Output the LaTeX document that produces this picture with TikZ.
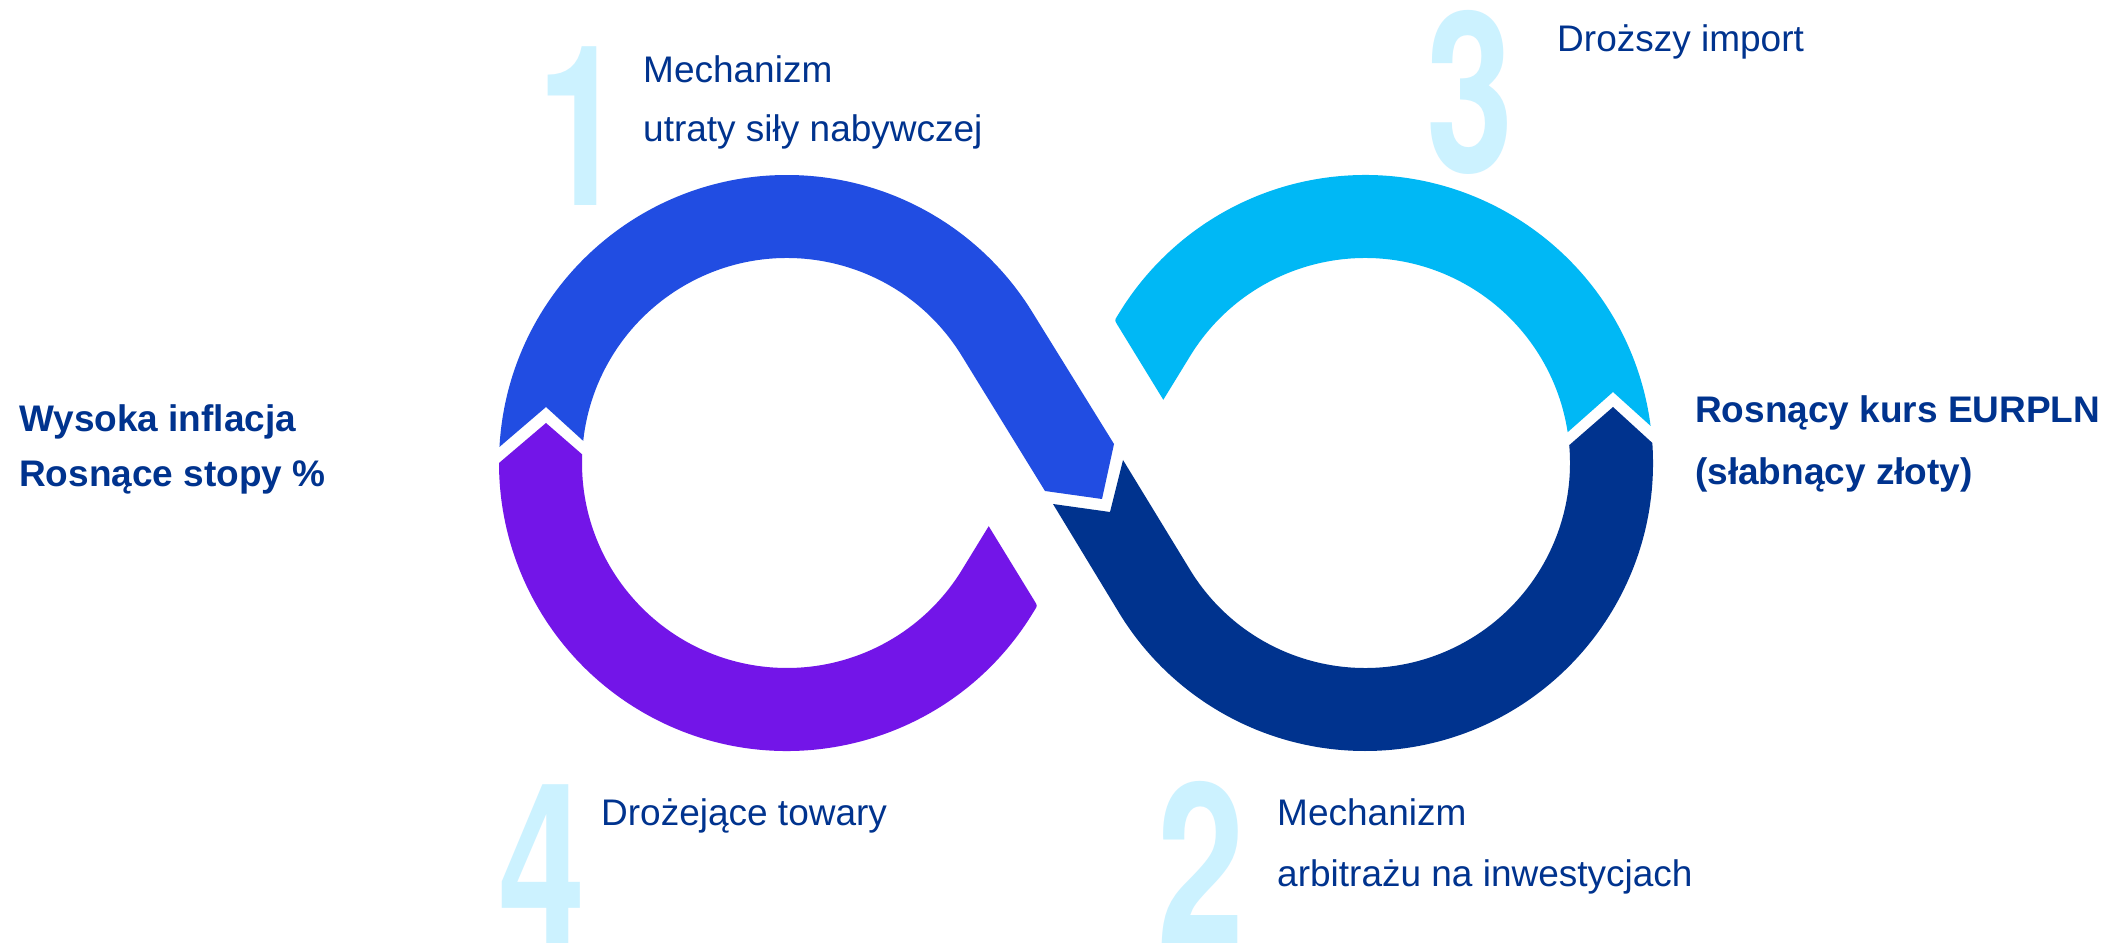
\documentclass[tikz,border=0pt]{standalone}
\usepackage{graphicx}
\usepackage{fontspec}
\setmainfont{Liberation Sans}
\newfontfamily\digitfont{TeX Gyre Heros}
\usetikzlibrary{calc}

\definecolor{loopblue}{HTML}{214DE2}
\definecolor{loopcyan}{HTML}{00B8F5}
\definecolor{loopnavy}{HTML}{00338E}
\definecolor{looppurple}{HTML}{7315E8}
\definecolor{numtint}{HTML}{CCF2FF}
\definecolor{labelnavy}{HTML}{00338E}

\tikzset{
  caption/.style={anchor=base west, inner sep=0pt, text=labelnavy,
    font=\fontsize{37}{44}\selectfont},
  keynote/.style={anchor=base west, inner sep=0pt, text=labelnavy,
    font=\fontsize{37}{44}\selectfont\bfseries},
  bigdigit/.style={anchor=base, inner sep=0pt, text=numtint,
    font=\digitfont\fontsize{224}{224}\selectfont\bfseries},
}

\begin{document}
\begin{tikzpicture}[x=1pt,y=1pt]
\useasboundingbox (0,0) rectangle (2106,946);
\fill[white] (0,0) rectangle (2106,946);

% centres of the two loops
\coordinate (L) at (787,483);
\coordinate (R) at (1365,483);

% tangent points of the crossing strokes
\coordinate (LTo) at ($(L)+(31.5:288)$);
\coordinate (LTi) at ($(L)+(31.5:205)$);
\coordinate (LBo) at ($(L)+(328.5:288)$);
\coordinate (LBi) at ($(L)+(328.5:205)$);
\coordinate (RTo) at ($(R)+(148.5:288)$);
\coordinate (RTi) at ($(R)+(148.5:205)$);
\coordinate (RBo) at ($(R)+(211.5:288)$);
\coordinate (RBi) at ($(R)+(211.5:205)$);

% cut ends of the under-passing strokes
\coordinate (cyanOut) at (1114.6,625.7);
\coordinate (cyanIn)  at (1163.3,546.2);
\coordinate (purpIn)  at (988.7,419.8);
\coordinate (purpOut) at (1037.4,340.3);

% big step numbers
\node[bigdigit] (n1) at (581,740) {\scalebox{0.7}[1]{1}};
\node[bigdigit] (n3) at (1470,773) {\scalebox{0.7}[1]{3}};
\node[bigdigit] (n4) at (542,3) {\scalebox{0.7}[1]{4}};
\node[bigdigit] (n2) at (1201,3) {\scalebox{0.7}[1]{2}};

% blue: upper half of the left loop, over the crossing
\fill[loopblue] ($(L)+(176.8:288)$) arc[start angle=176.8, end angle=31.5, radius=288pt]
  -- (1114,502) -- (1102,447) -- (1045,455) -- (LTi)
  arc[start angle=31.5, end angle=173.8, radius=205pt]
  -- (546,539) -- cycle;

% navy: from the crossing round the bottom of the right loop
\fill[loopnavy] (1053,442) -- (1110,434) -- (1123,486) -- (RBi)
  arc[start angle=211.5, end angle=365, radius=205pt]
  -- (1613,539) -- ($(R)+(364:288)$)
  arc[start angle=364, end angle=211.5, radius=288pt] -- cycle;

% cyan: top of the right loop, ending before the crossing
\fill[loopcyan] ($(R)+(7.4:288)$) arc[start angle=7.4, end angle=148.5, radius=288pt]
  -- ($(cyanOut)!5pt!(RTo)$) .. controls (cyanOut) .. ($(cyanOut)!5pt!(cyanIn)$)
  -- (cyanIn) -- (RTi)
  arc[start angle=148.5, end angle=8.64, radius=205pt]
  -- (1613,554) -- cycle;

% purple: bottom of the left loop, starting after the crossing
\fill[looppurple] ($(L)+(180:288)$) -- (546,523) -- ($(L)+(177.6:205)$)
  arc[start angle=177.6, end angle=328.5, radius=205pt]
  -- (purpIn) -- ($(purpOut)!5pt!(purpIn)$) .. controls (purpOut) .. ($(purpOut)!5pt!(LBo)$)
  -- (LBo)
  arc[start angle=328.5, end angle=180, radius=288pt] -- cycle;

% step labels
\node[caption] (t1a) at (643,863) {Mechanizm};
\node[caption] (t1b) at (643,804) {utraty siły nabywczej};
\node[caption] (t3)  at (1557,894) {Droższy import};
\node[caption] (t4)  at (601,121) {Drożejące towary};
\node[caption] (t2a) at (1277,121) {Mechanizm};
\node[caption] (t2b) at (1277,60) {arbitrażu na inwestycjach};

% side statements
\node[keynote] (la) at (19,514) {Wysoka inflacja};
\node[keynote] (lb) at (19,459) {Rosnące stopy \%};
\node[keynote] (ra) at (1695,523) {Rosnący kurs EURPLN};
\node[keynote] (rb) at (1695,461) {(słabnący złoty)};
\end{tikzpicture}
\end{document}
